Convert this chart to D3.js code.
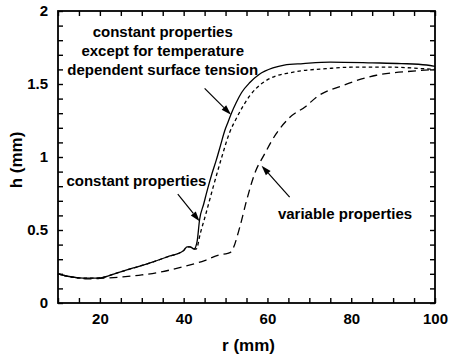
<!DOCTYPE html>
<html>
<head>
<meta charset="utf-8">
<script src="https://cdn.jsdelivr.net/npm/d3@7"></script>
<style>
  html, body { margin: 0; padding: 0; background: #fff; }
  svg { display: block; }
  text { font-family: "Liberation Sans", Arial, Helvetica, sans-serif; font-weight: bold; fill: #000; }
</style>
</head>
<body>
<script>
// Film thickness h (mm) against radius r (mm) for three property models.

// constant properties except for temperature dependent surface tension (solid)
const rSolid = [10, 12, 14, 16, 18, 20, 24, 28, 32, 36, 40, 40.8, 41.5, 42.5, 43.2, 43.8, 44.8, 45.8, 46.8, 47.8, 48.8, 49.8, 50.6, 51.4, 52.5, 53.8, 55.8, 58, 61.3, 64, 68.5, 75, 85, 92, 98, 100];
const hSolid = [0.20, 0.185, 0.175, 0.17, 0.17, 0.172, 0.205, 0.24, 0.275, 0.315, 0.36, 0.385, 0.385, 0.37, 0.42, 0.57, 0.68, 0.79, 0.89, 0.98, 1.08, 1.18, 1.24, 1.30, 1.37, 1.44, 1.51, 1.565, 1.61, 1.63, 1.64, 1.65, 1.645, 1.64, 1.63, 1.62];

// constant properties (short dashes)
const rConst = [10, 12, 14, 16, 18, 20, 24, 28, 32, 36, 40, 40.8, 41.5, 42.5, 43.0, 44.0, 45.2, 47.0, 49.0, 51.0, 52.5, 54, 55.8, 57.3, 59.5, 62, 65, 68, 74, 80, 90, 97, 100];
const hConst = [0.20, 0.185, 0.175, 0.17, 0.17, 0.172, 0.205, 0.24, 0.275, 0.315, 0.36, 0.385, 0.385, 0.37, 0.37, 0.48, 0.60, 0.79, 0.99, 1.17, 1.26, 1.34, 1.42, 1.47, 1.52, 1.555, 1.575, 1.59, 1.605, 1.615, 1.615, 1.605, 1.60];

// variable properties (long dashes)
const rVar = [10, 12, 14, 17, 20, 25, 30, 35, 40, 45, 48.5, 50.5, 51.3, 53.4, 55, 57, 59.3, 62.1, 65.3, 69.3, 71.7, 78, 86, 95.5, 100];
const hVar = [0.20, 0.185, 0.175, 0.165, 0.168, 0.178, 0.192, 0.215, 0.25, 0.29, 0.33, 0.34, 0.35, 0.52, 0.70, 0.89, 1.02, 1.16, 1.27, 1.35, 1.41, 1.49, 1.56, 1.59, 1.60];

// axis ticks and labels
const xTicks = d3.range(10, 100.001, 5);
const xLabels = [20, 40, 60, 80, 100];
const yTicks = d3.range(0, 2.0001, 0.1).map(v => +v.toFixed(1));
const yLabels = ["0", "0.5", "1", "1.5", "2"];

// annotations: text lines and arrows (tail -> tip) in data units
const noteSurface = ["constant properties", "except for temperature", "dependent surface tension"];
const noteConst = "constant properties";
const noteVar = "variable properties";
const arrowSurface = [[45.0, 1.47], [51.3, 1.29]];
const arrowConst = [[38.6, 0.745], [43.8, 0.56]];
const arrowVar = [[65.3, 0.725], [58.6, 0.94]];

const W = 449, H = 356;
const x = d3.scaleLinear().domain([10, 100]).range([58, 435]);
const y = d3.scaleLinear().domain([0, 2]).range([303, 11]);

const svg = d3.select("body").append("svg").attr("width", W).attr("height", H);

// ticks on all four sides, pointing inward
const fmtX = d => xLabels.includes(d) ? d : "";
const fmtY = d => { const s = String(d); return yLabels.includes(s) ? s : ""; };

const gB = svg.append("g").attr("transform", `translate(0,${y(0)})`)
  .call(d3.axisBottom(x).tickValues(xTicks).tickSize(-5).tickPadding(10).tickFormat(fmtX));
const gT = svg.append("g").attr("transform", `translate(0,${y(2)})`)
  .call(d3.axisTop(x).tickValues(xTicks).tickSize(-5).tickFormat(""));
const gL = svg.append("g").attr("transform", `translate(${x(10)},0)`)
  .call(d3.axisLeft(y).tickValues(yTicks).tickSize(-5).tickPadding(10).tickFormat(fmtY));
const gR = svg.append("g").attr("transform", `translate(${x(100)},0)`)
  .call(d3.axisRight(y).tickValues(yTicks).tickSize(-5).tickFormat(""));

[gB, gT, gL, gR].forEach(g => {
  g.select(".domain").remove();
  g.selectAll(".tick line").attr("stroke", "#000").attr("stroke-width", 1.4);
  g.selectAll(".tick text").attr("font-size", 15).attr("font-weight", "bold")
    .attr("font-family", "Liberation Sans, Arial, sans-serif").attr("fill", "#000");
});

// frame
svg.append("rect")
  .attr("x", x(10)).attr("y", y(2))
  .attr("width", x(100) - x(10)).attr("height", y(0) - y(2))
  .attr("fill", "none").attr("stroke", "#000").attr("stroke-width", 1.8);

// curves
const line = d3.line().x(d => x(d[0])).y(d => y(d[1])).curve(d3.curveMonotoneX);
const series = [
  { r: rVar, h: hVar, dash: "8,5" },
  { r: rConst, h: hConst, dash: "3.5,3" },
  { r: rSolid, h: hSolid, dash: null }
];
series.forEach(s => {
  svg.append("path")
    .datum(s.r.map((r, i) => [r, s.h[i]]))
    .attr("d", line)
    .attr("fill", "none")
    .attr("stroke", "#000")
    .attr("stroke-width", 1.3)
    .attr("stroke-dasharray", s.dash);
});

// arrows with filled heads
function arrow(a) {
  const [x0, y0] = [x(a[0][0]), y(a[0][1])];
  const [x1, y1] = [x(a[1][0]), y(a[1][1])];
  const ang = Math.atan2(y1 - y0, x1 - x0);
  const len = 10, half = 3.2;
  const bx = x1 - len * Math.cos(ang), by = y1 - len * Math.sin(ang);
  svg.append("line")
    .attr("x1", x0).attr("y1", y0).attr("x2", bx).attr("y2", by)
    .attr("stroke", "#000").attr("stroke-width", 1.2);
  const px = -Math.sin(ang) * half, py = Math.cos(ang) * half;
  svg.append("path")
    .attr("d", `M${x1},${y1}L${bx + px},${by + py}L${bx - px},${by - py}Z`)
    .attr("fill", "#000");
}
[arrowSurface, arrowConst, arrowVar].forEach(arrow);

// annotation text
svg.append("text")
  .attr("x", x(35)).attr("y", y(1.823))
  .attr("text-anchor", "middle").attr("font-size", 15)
  .selectAll("tspan").data(noteSurface).join("tspan")
  .attr("x", x(35)).attr("dy", (d, i) => i === 0 ? 0 : 19)
  .text(d => d);

svg.append("text")
  .attr("x", x(12)).attr("y", y(0.80))
  .attr("font-size", 15).text(noteConst);

svg.append("text")
  .attr("x", x(62.5)).attr("y", y(0.577))
  .attr("font-size", 15).text(noteVar);

// axis titles
svg.append("text")
  .attr("x", (x(10) + x(100)) / 2 + 2).attr("y", 351)
  .attr("text-anchor", "middle").attr("font-size", 17).text("r (mm)");

svg.append("text")
  .attr("transform", `translate(22,${(y(0) + y(2)) / 2 + 3}) rotate(-90)`)
  .attr("text-anchor", "middle").attr("font-size", 17).text("h (mm)");
</script>
</body>
</html>
